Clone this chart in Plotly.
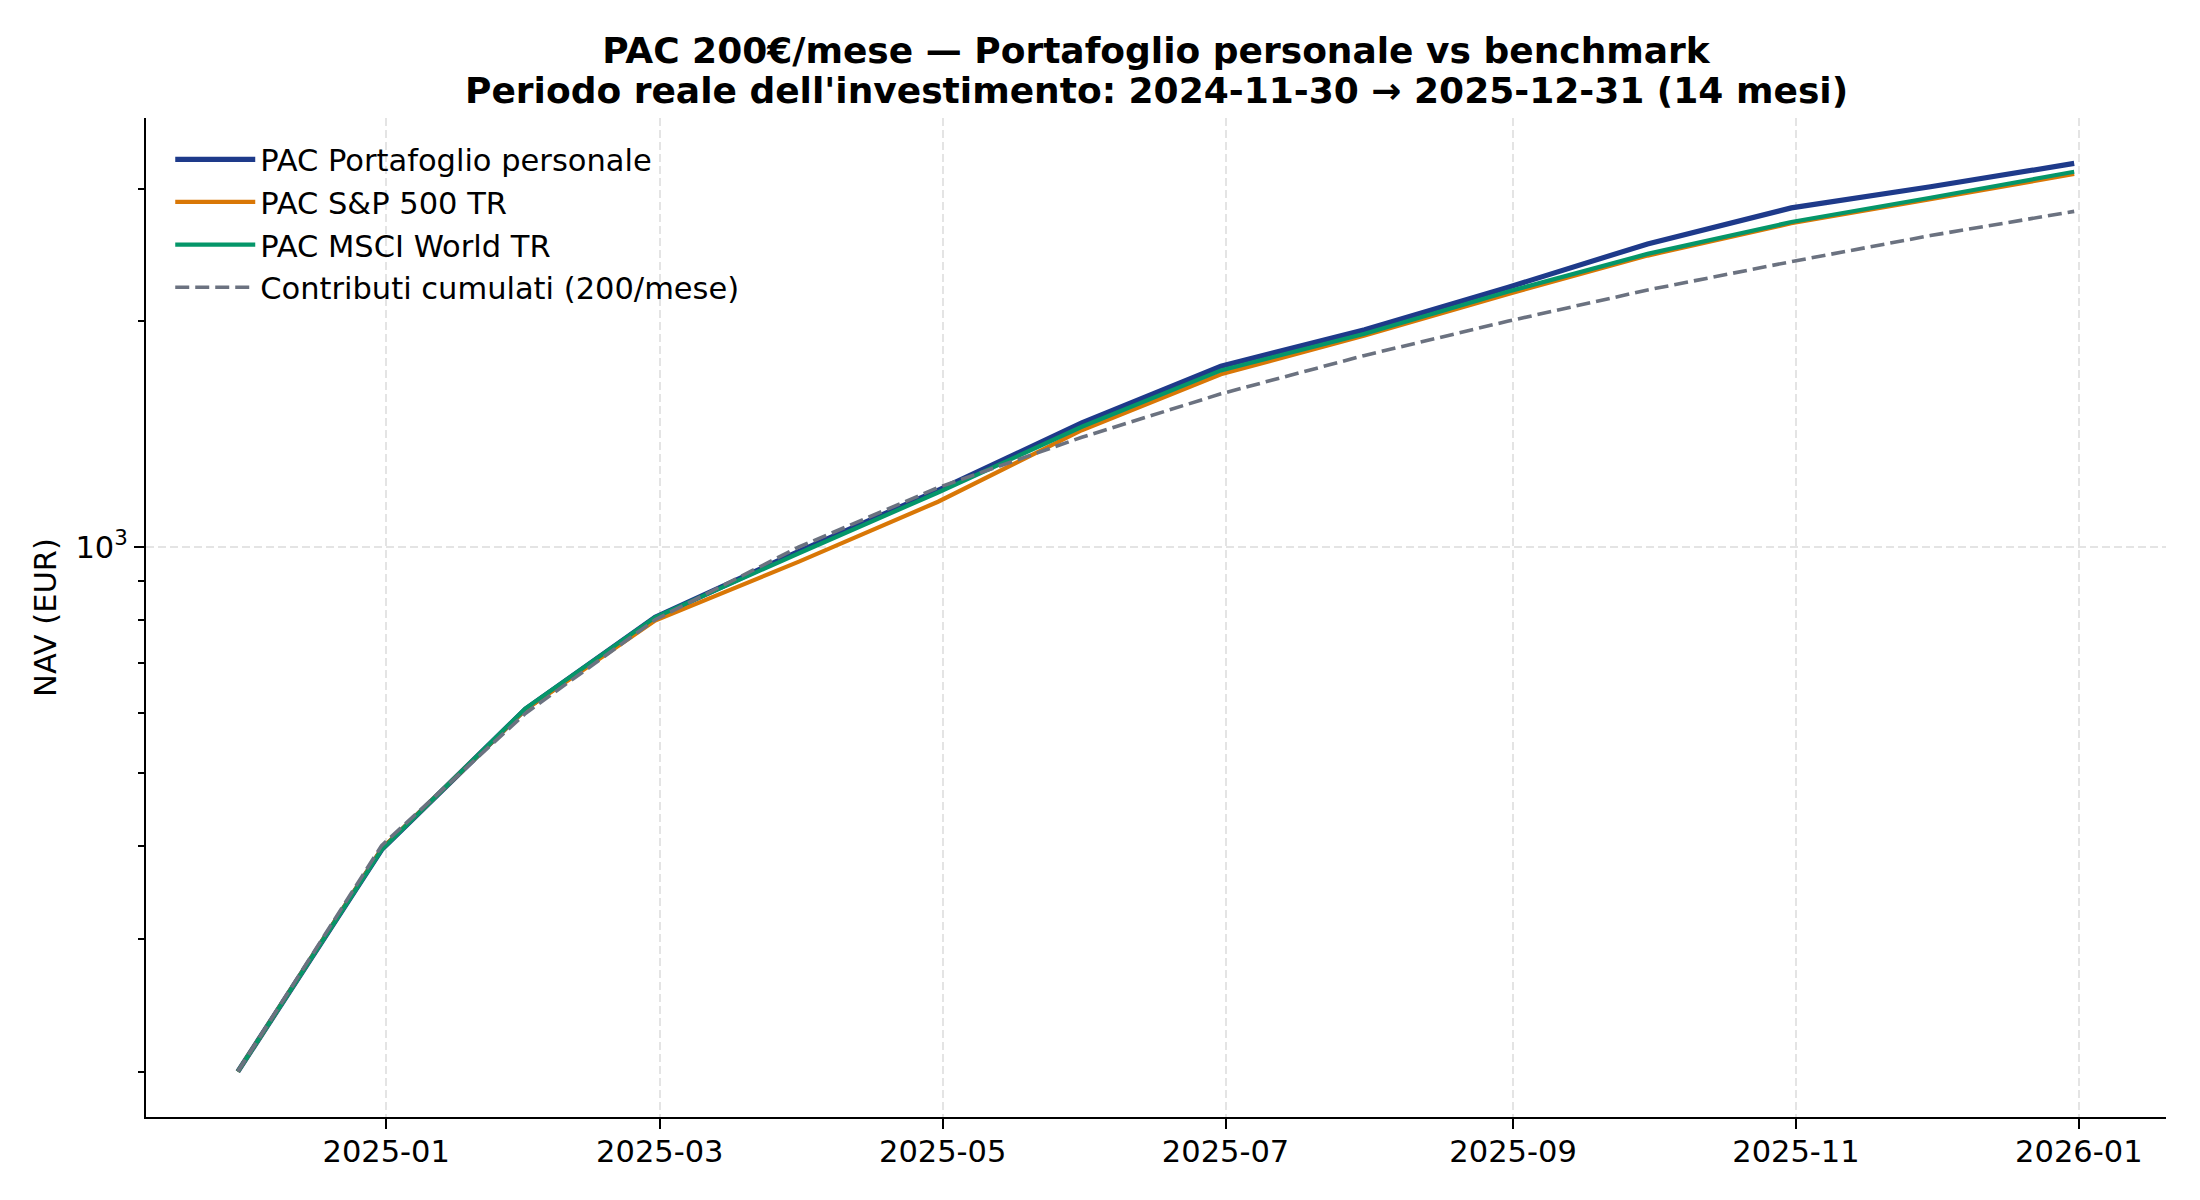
import plotly.graph_objects as go

dates = ["2024-11-30", "2024-12-31", "2025-01-31", "2025-02-28", "2025-03-31",
         "2025-04-30", "2025-05-31", "2025-06-30", "2025-07-31", "2025-08-31",
         "2025-09-30", "2025-10-31", "2025-11-30", "2025-12-31"]
portafoglio = [200, 395, 608, 806, 987, 1190, 1463, 1741, 1948, 2219, 2534, 2830, 3020, 3244]
sp500 = [200, 396, 607, 798, 956, 1149, 1431, 1699, 1913, 2174, 2445, 2700, 2908, 3140]
msci = [200, 395, 609, 806, 981, 1182, 1446, 1719, 1924, 2190, 2458, 2710, 2920, 3162]
contributi = [200, 400, 600, 800, 1000, 1200, 1400, 1600, 1800, 2000, 2200, 2400, 2600, 2800]

x_tickvals = ["2025-01-01", "2025-03-01", "2025-05-01", "2025-07-01", "2025-09-01",
              "2025-11-01", "2026-01-01"]
x_ticktext = ["2025-01", "2025-03", "2025-05", "2025-07", "2025-09", "2025-11", "2026-01"]
y_major = [1000]
y_major_text = ["10<sup>3</sup>"]
y_minor = [200, 300, 400, 500, 600, 700, 800, 900, 2000, 3000]

FONT = "DejaVu Sans"

fig = go.Figure()
fig.add_trace(go.Scatter(x=dates, y=portafoglio, mode="lines", name="PAC Portafoglio personale",
                         line=dict(color="#1e3a8a", width=5.2)))
fig.add_trace(go.Scatter(x=dates, y=sp500, mode="lines", name="PAC S&P 500 TR",
                         line=dict(color="#d97706", width=4.2)))
fig.add_trace(go.Scatter(x=dates, y=msci, mode="lines", name="PAC MSCI World TR",
                         line=dict(color="#059669", width=4.2)))
fig.add_trace(go.Scatter(x=dates, y=contributi, mode="lines", name="Contributi cumulati (200/mese)",
                         line=dict(color="#6b7280", width=3.6, dash="14px,6px")))

fig.update_layout(
    width=2200, height=1200,
    margin=dict(l=146, r=34, t=118, b=83, autoexpand=False),
    paper_bgcolor="white", plot_bgcolor="white",
    font=dict(family=FONT, size=30.5, color="black"),
    title=dict(text="<b>PAC 200€/mese — Portafoglio personale vs benchmark</b>",
               x=0.5, xref="paper", xanchor="center",
               y=1 - 50.5 / 1200, yref="container", yanchor="middle",
               font=dict(family=FONT, size=36, color="black")),
    annotations=[dict(text="<b>Periodo reale dell'investimento: 2024-11-30 → 2025-12-31 (14 mesi)</b>",
                      x=0.5, xref="paper", xanchor="center",
                      y=1, yref="paper", yanchor="middle", yshift=28,
                      showarrow=False, font=dict(family=FONT, size=36, color="black"))],
    showlegend=True,
    legend=dict(x=0.012, y=0.985, xanchor="left", yanchor="top",
                bgcolor="rgba(0,0,0,0)", borderwidth=0,
                font=dict(family=FONT, size=30.5, color="black"),
                itemwidth=80, tracegroupgap=0),
)

fig.update_xaxes(
    type="date",
    range=["2024-11-10 04:48", "2026-01-19 19:12"],
    tickvals=x_tickvals, ticktext=x_ticktext,
    ticks="outside", ticklen=10, tickwidth=2, tickcolor="black",
    ticklabelstandoff=-4,
    showline=True, linecolor="black", linewidth=2.2, mirror=False,
    showgrid=True, gridcolor="#e4e4e4", gridwidth=2, griddash="8px,4px",
    zeroline=False,
    tickfont=dict(family=FONT, size=30.5, color="black"),
)
fig.update_yaxes(
    type="log",
    range=[2.2405, 3.5716],
    tickvals=y_major, ticktext=y_major_text,
    ticks="outside", ticklen=10, tickwidth=2, tickcolor="black",
    minor=dict(tickvals=y_minor, ticks="outside", ticklen=5.5, tickwidth=1.6,
               tickcolor="black", showgrid=False),
    showline=True, linecolor="black", linewidth=2.2, mirror=False,
    showgrid=True, gridcolor="#e4e4e4", gridwidth=2, griddash="8px,4px",
    zeroline=False,
    tickfont=dict(family=FONT, size=30.5, color="black"),
    title=dict(text="NAV (EUR)", standoff=10, font=dict(family=FONT, size=30.5, color="black")),
)

fig.write_html("out.html")
